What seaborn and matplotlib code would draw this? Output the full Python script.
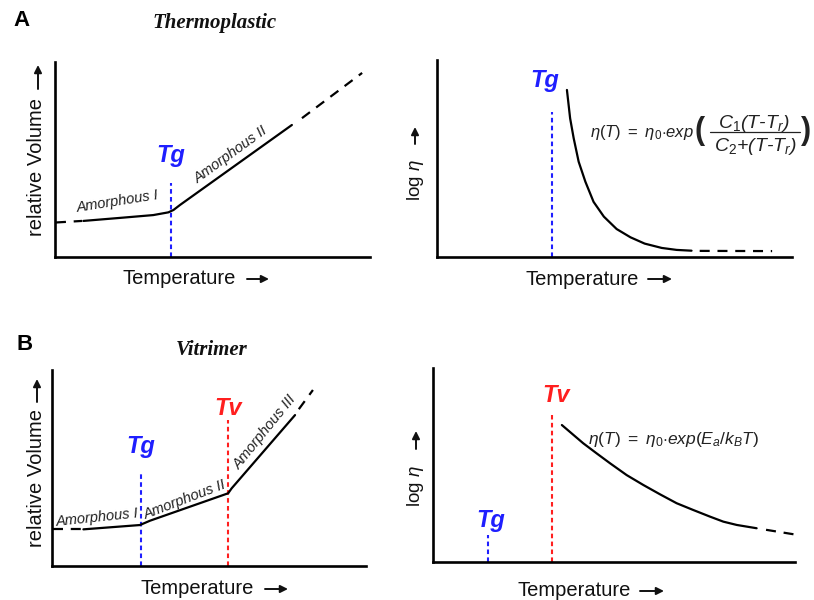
import matplotlib
matplotlib.use("Agg")
import matplotlib.pyplot as plt
import seaborn as sns

# panel A, left: relative volume vs temperature (thermoplastic)
a_vol_dash0_t = [0.3, 8.6]
a_vol_dash0_v = [17.7, 18.5]
a_vol_t = [9.0, 21.7, 31.2, 36.0, 37.6, 39.7, 75.2]
a_vol_v = [18.5, 20.2, 21.5, 22.9, 24.1, 26.7, 67.7]
a_vol_dash1_t = [78.4, 97.5]
a_vol_dash1_v = [71.2, 94.4]
a_tg = 36.8

# panel A, right: log viscosity (WLF)
a_eta_t = [36.6, 37.5, 38.5, 39.9, 41.8, 44.1, 47.0, 50.6, 54.5, 58.5, 63.3, 67.5, 71.7]
a_eta_v = [84.8, 70.4, 60.3, 48.4, 38.2, 28.0, 20.5, 14.2, 10.0, 6.8, 4.6, 3.6, 3.2]
a_eta_dash_t = [74.0, 94.4]
a_eta_dash_v = [3.1, 3.0]
a_tg_eta = 32.4

# panel B, left: relative volume vs temperature (vitrimer)
b_vol_dash0_t = [0.4, 10.0]
b_vol_dash0_v = [18.7, 18.7]
b_vol_t = [10.0, 28.0, 31.2, 56.1, 57.2, 77.4]
b_vol_v = [18.7, 20.9, 23.1, 37.1, 39.6, 77.0]
b_vol_dash1_t = [78.6, 83.1]
b_vol_dash1_v = [80.0, 89.8]
b_tg, b_tv = 28.3, 56.1

# panel B, right: log viscosity (Arrhenius)
b_eta_t = [35.6, 38.8, 41.5, 45.2, 48.9, 53.5, 58.1, 62.7, 67.3, 71.9, 76.5, 80.2, 83.9, 89.4]
b_eta_v = [70.6, 65.5, 61.2, 56.0, 50.9, 44.8, 39.7, 34.9, 30.3, 26.8, 23.4, 20.8, 19.1, 17.4]
b_eta_dash_t = [92.0, 100.9]
b_eta_dash_v = [16.6, 13.9]
b_tg_eta, b_tv_eta = 15.2, 32.9

sns.set_theme(style="white")
plt.rcParams["font.family"] = ["Liberation Sans", "DejaVu Sans"]
plt.rcParams["mathtext.fontset"] = "custom"
plt.rcParams["mathtext.rm"] = "Liberation Sans"
plt.rcParams["mathtext.it"] = "Liberation Sans:italic"
plt.rcParams["mathtext.bf"] = "Liberation Sans:bold"

BLUE = "#1f1fff"
RED = "#ff1f1f"
INK = "#111111"
W, H = 814, 600


def box(l, t, r, b):
    return [l / W, 1 - b / H, (r - l) / W, (b - t) / H]


fig = plt.figure(figsize=(8.14, 6.0), dpi=100)
ax_al = fig.add_axes(box(55, 62, 370, 257))
ax_ar = fig.add_axes(box(437, 60, 792, 257))
ax_bl = fig.add_axes(box(52, 370, 366, 566))
ax_br = fig.add_axes(box(433, 368, 795, 562))

for ax in [ax_al, ax_ar, ax_bl, ax_br]:
    ax.set_xlim(0, 100)
    ax.set_ylim(0, 100)
    ax.set_xticks([])
    ax.set_yticks([])
    sns.despine(ax=ax)
    for s in ["left", "bottom"]:
        ax.spines[s].set_linewidth(1.9)
        ax.spines[s].set_color("black")

curve_kw = dict(color="black", linewidth=1.6, sort=False, estimator=None, legend=False)
dash_curve = (0, (4.5, 3.5))
vdash = (0, (2.2, 1.6))


def curve(ax, t, v, dashed=False):
    ls = dash_curve if dashed else "-"
    sns.lineplot(x=t, y=v, ax=ax, linestyle=ls, clip_on=False, **curve_kw)


def marker_line(ax, x, top, color):
    ax.plot([x, x], [0, top], color=color, linewidth=1.5, linestyle=vdash, zorder=1)


def t_label(ax, x, y, txt, color):
    ax.text(x, y, txt, color=color, fontsize=17, fontweight="bold", fontstyle="italic",
            ha="center", va="baseline")


def amorph(ax, x, y, txt, rot):
    ax.text(x, y, txt, fontsize=10.5, fontstyle="italic", color="#222222",
            ha="center", va="center", rotation=rot, rotation_mode="anchor")


def px_text(x, y, txt, **kw):
    fig.text(x / W, 1 - y / H, txt, **kw)


def px_arrow(x0, y0, x1, y1):
    fig.add_artist(plt.matplotlib.patches.FancyArrowPatch(
        (x0 / W, 1 - y0 / H), (x1 / W, 1 - y1 / H), transform=fig.transFigure,
        arrowstyle="-|>", mutation_scale=11, lw=1.4, color=INK, shrinkA=0, shrinkB=0))


# ---- A left
curve(ax_al, a_vol_dash0_t, a_vol_dash0_v, dashed=True)
curve(ax_al, a_vol_t, a_vol_v)
curve(ax_al, a_vol_dash1_t, a_vol_dash1_v, dashed=True)
marker_line(ax_al, a_tg, 38, BLUE)
t_label(ax_al, a_tg, 48.5, "Tg", BLUE)
amorph(ax_al, 20, 28.2, "Amorphous I", 9)
amorph(ax_al, 55.9, 52.3, "Amorphous II", 36)

# ---- A right
curve(ax_ar, a_eta_t, a_eta_v)
curve(ax_ar, a_eta_dash_t, a_eta_dash_v, dashed=True)
marker_line(ax_ar, a_tg_eta, 73.6, BLUE)
t_label(ax_ar, 30.4, 86.3, "Tg", BLUE)
f_kw = dict(color="#222222", clip_on=False)
ax_ar.text(43.1, 60.9, r"$\eta(T)\ =\ \eta_0{\cdot}exp$", fontsize=12, ha="left", va="baseline", **f_kw)
ax_ar.text(74.1, 64.0, "(", fontsize=22, fontweight="bold", ha="center", va="center", **f_kw)
ax_ar.text(103.9, 64.0, ")", fontsize=22, fontweight="bold", ha="center", va="center", **f_kw)
ax_ar.text(89.3, 65.6, "C$_1$(T-T$_r$)", fontsize=14, fontstyle="italic", ha="center", va="baseline", **f_kw)
ax_ar.text(89.6, 54.0, "C$_2$+(T-T$_r$)", fontsize=14, fontstyle="italic", ha="center", va="baseline", **f_kw)
ax_ar.plot([76.8, 102.2], [63.3, 63.3], color="#222222", linewidth=0.9, clip_on=False)

# ---- B left
curve(ax_bl, b_vol_dash0_t, b_vol_dash0_v, dashed=True)
curve(ax_bl, b_vol_t, b_vol_v)
curve(ax_bl, b_vol_dash1_t, b_vol_dash1_v, dashed=True)
marker_line(ax_bl, b_tg, 48, BLUE)
marker_line(ax_bl, b_tv, 74.5, RED)
t_label(ax_bl, b_tg, 57.7, "Tg", BLUE)
t_label(ax_bl, b_tv, 77.0, "Tv", RED)
amorph(ax_bl, 14.3, 24.5, "Amorphous I", 6)
amorph(ax_bl, 42.4, 33.7, "Amorphous II", 21)
amorph(ax_bl, 67.8, 68.4, "Amorphous III", 51)

# ---- B right
curve(ax_br, b_eta_t, b_eta_v)
curve(ax_br, b_eta_dash_t, b_eta_dash_v, dashed=True)
marker_line(ax_br, b_tg_eta, 13.9, BLUE)
marker_line(ax_br, b_tv_eta, 75.8, RED)
t_label(ax_br, 16.0, 18.0, "Tg", BLUE)
t_label(ax_br, 34.0, 82.5, "Tv", RED)
ax_br.text(42.8, 63.0, r"$\eta(T)\ =\ \eta_0{\cdot}exp(E_a/k_BT)$",
           fontsize=12.5, ha="left", va="center", color="#222222")

# axis labels (text + drawn arrow, positions in figure pixels)
lab_kw = dict(fontsize=14.5, color=INK, ha="center", va="center")
px_text(179.5, 278, "Temperature", **lab_kw)
px_text(582.5, 279, "Temperature", **lab_kw)
px_text(197.5, 589, "Temperature", **lab_kw)
px_text(574.5, 591, "Temperature", **lab_kw)
px_arrow(247, 279, 269, 279)
px_arrow(648, 279, 672, 279)
px_arrow(265, 589, 288, 589)
px_arrow(640, 591, 664, 591)

px_text(37, 167, "relative Volume", rotation=90, **lab_kw)
px_text(37, 478, "relative Volume", rotation=90, **lab_kw)
lab_kw["fontsize"] = 13.5
px_text(415, 180, r"log $\eta$", rotation=90, **lab_kw)
px_text(416, 486, r"log $\eta$", rotation=90, **lab_kw)
px_arrow(415, 144, 415, 127)
px_arrow(416, 449, 416, 431)
px_arrow(38, 89, 38, 65)
px_arrow(37, 402, 37, 379)

# panel letters and titles
px_text(22, 21, "A", fontsize=16, fontweight="bold", ha="center", va="center", color="black")
px_text(25, 345, "B", fontsize=16, fontweight="bold", ha="center", va="center", color="black")
serif = ["Liberation Serif", "DejaVu Serif"]
px_text(215, 23, "Thermoplastic", family=serif, fontsize=15, fontweight="bold",
        fontstyle="italic", ha="center", va="center", color=INK)
px_text(212, 350, "Vitrimer", family=serif, fontsize=15, fontweight="bold",
        fontstyle="italic", ha="center", va="center", color=INK)

fig.savefig("out.png", dpi=100, facecolor="white")
